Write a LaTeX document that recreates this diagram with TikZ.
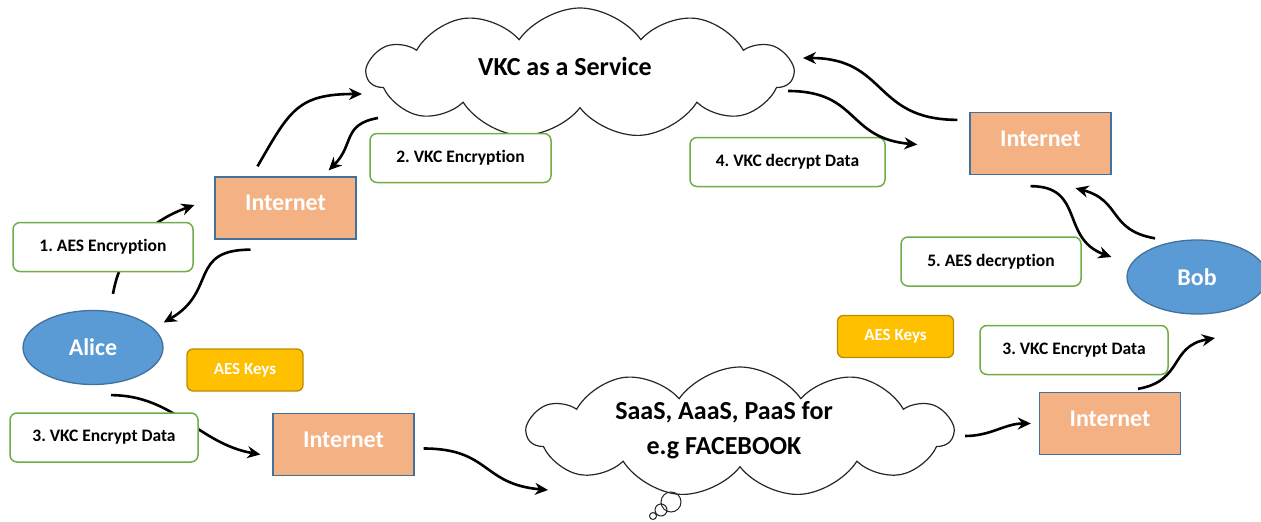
\documentclass[tikz,border=0pt]{standalone}
\usepackage{fontspec}
\setmainfont{Carlito}[Ligatures=NoCommon]
\usepackage{tikz}
\usetikzlibrary{shapes.symbols}
\usetikzlibrary{shapes.geometric}
\usetikzlibrary{arrows.meta}
\frenchspacing

\definecolor{inetfill}{RGB}{244,177,131}
\definecolor{shapeline}{RGB}{65,113,156}
\definecolor{personfill}{RGB}{91,155,213}
\definecolor{keyfill}{RGB}{255,192,0}
\definecolor{keyline}{RGB}{188,140,0}
\definecolor{stepline}{RGB}{112,173,71}

\begin{document}
\begin{tikzpicture}[x=1pt, y=1pt,
    inet/.style={draw=shapeline, line width=1.3pt, fill=inetfill, minimum width=141pt, minimum height=62pt, inner sep=0pt, text height=17pt, text depth=12pt, text=white, font=\fontsize{24}{28}\selectfont\bfseries},
    person/.style={ellipse, draw=shapeline, line width=1.3pt, fill=personfill, minimum width=140pt, minimum height=74pt, inner sep=0pt, text=white, font=\fontsize{24}{28}\selectfont\bfseries},
    aeskey/.style={draw=keyline, line width=1.3pt, fill=keyfill, rounded corners=6pt, minimum width=116pt, minimum height=42pt, inner sep=0pt, text=white, font=\fontsize{17}{20}\selectfont\bfseries},
    stepbox/.style={draw=stepline, line width=1.5pt, fill=white, rounded corners=7pt, minimum height=49pt, inner sep=0pt, font=\fontsize{17.5}{20}\selectfont\bfseries},
    sky/.style={cloud, draw=black!85, line width=1.2pt, cloud puffs=11, cloud puff arc=110, cloud ignores aspect, minimum width=425pt, minimum height=130pt, inner sep=0pt},
    skytext/.style={font=\fontsize{26}{35}\selectfont\bfseries, align=center},
    flow/.style={line width=2.6pt, -{Stealth[length=13pt, width=12pt]}}]
    \clip (0,0) rectangle (1261,-522);

    % the two clouds
    \node[sky] (vkc) at (580,-73) {};
    \node[skytext] (vkctxt) at ([xshift=-15pt,yshift=7pt]vkc.center) {VKC as a Service};
    \node[sky] (saas) at (740,-432) {};
    \node[skytext] (saastxt) at ([xshift=-16pt,yshift=1.5pt]saas.center) {SaaS, AaaS, PaaS for\\e.g FACEBOOK};
    \draw[black!85, line width=1pt] (671,-502) circle (10pt) (661,-510) circle (6pt) (653,-516) circle (3.5pt);

    \node[inet] (inetA) at (285.5,-208) {Internet};
    \node[inet] (inetB) at (1040.5,-143.5) {Internet};
    \node[inet] (inetC) at (343.5,-444.5) {Internet};
    \node[inet] (inetD) at (1110,-423.5) {Internet};

    \node[person] (alice) at (93,-347.5) {Alice};
    \node[person] (bob) at (1197,-277) {Bob};

    \node[aeskey] (keysL) at (245,-370) {AES Keys};
    \node[aeskey] (keysR) at (895.5,-336.5) {AES Keys};

    \node[stepbox, minimum width=181pt] (enc2) at (460.5,-158) {2. VKC Encryption};
    \node[stepbox, minimum width=195pt] (dec4) at (787.5,-162) {4. VKC decrypt Data};
    \node[stepbox, minimum width=180pt] (dec5) at (991,-261.5) {5. AES decryption};
    \node[stepbox, minimum width=188pt] (enc3b) at (1074,-350) {3. VKC Encrypt Data};
    \coordinate (away) at (1215,-338);

    % Alice side
    \draw[flow] ([xshift=20pt,yshift=16pt]alice.north) to[out=80,in=200] ([xshift=-20pt,yshift=3pt]inetA.west);
    \draw[flow] ([xshift=-35pt,yshift=-10pt]inetA.south) to[out=180,in=30,looseness=1.4] ([yshift=25pt]alice.east);
    \draw[flow] ([xshift=-28pt,yshift=10pt]inetA.north) to[out=60,in=180,looseness=1.3] ([xshift=-218pt,yshift=-21pt]vkc.center);
    \draw[flow] ([xshift=-202pt,yshift=-45pt]vkc.center) to[out=190,in=45,looseness=1.3] ([xshift=-28pt,yshift=6pt]inetA.north east);
    \draw[flow] ([xshift=18pt,yshift=-10pt]alice.south) to[out=0,in=170] ([xshift=-12pt,yshift=-10pt]inetC.west);
    \draw[flow] ([xshift=9pt,yshift=-4pt]inetC.east) to[out=0,in=175,looseness=1.3] ([xshift=-192pt,yshift=-58pt]saas.center);

    % Bob side
    \draw[flow] ([xshift=208pt,yshift=-18pt]vkc.center) to[out=0,in=175,looseness=1.3] ([xshift=-52pt,yshift=-1pt]inetB.west);
    \draw[flow] ([xshift=-12pt,yshift=-8pt]inetB.north west) to[out=180,in=0,looseness=1.3] ([xshift=223pt,yshift=15pt]vkc.center);
    \draw[flow] ([xshift=-10pt,yshift=-11pt]inetB.south) to[out=0,in=160,looseness=1.3] ([xshift=-15pt,yshift=20pt]bob.west);
    \draw[flow] ([xshift=-42pt,yshift=1pt]bob.north) to[out=170,in=-15,looseness=1.3] ([xshift=35pt,yshift=-13pt]inetB.south);
    \draw[flow] ([xshift=225pt,yshift=-4pt]saas.center) to[out=0,in=180] ([xshift=-8pt]inetD.west);
    \draw[flow] ([xshift=28pt,yshift=3pt]inetD.north) to[out=10,in=190,looseness=1.3] (away);

    \node[stepbox, minimum width=180pt] (enc1) at (103,-247) {1. AES Encryption};
    \node[stepbox, minimum width=188pt] (enc3a) at (104,-437.5) {3. VKC Encrypt Data};
\end{tikzpicture}
\end{document}
